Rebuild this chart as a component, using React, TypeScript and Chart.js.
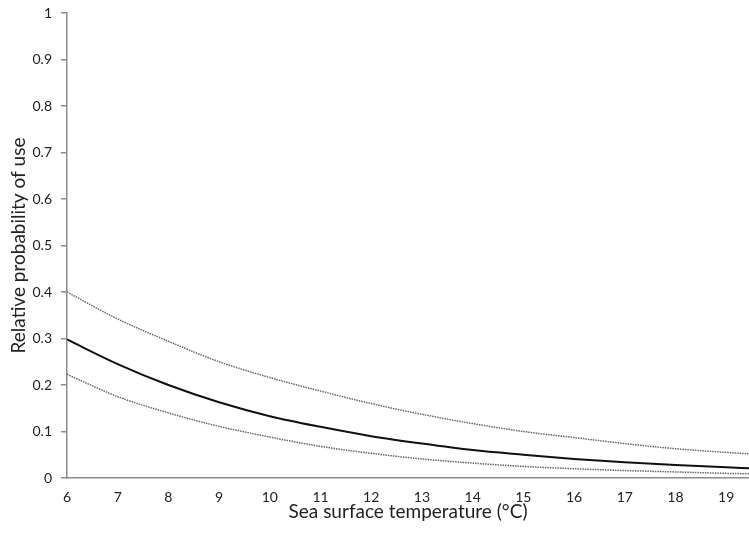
import React, { useEffect, useRef } from "react";
import { Chart, registerables } from "chart.js";

Chart.register(...registerables);

const temperatures = [6, 7, 8, 9, 10, 11, 12, 13, 14, 15, 16, 17, 18, 19, 19.45];
const meanProbability = [0.298, 0.245, 0.2, 0.163, 0.133, 0.11, 0.09, 0.074, 0.06, 0.05, 0.041, 0.034, 0.028, 0.023, 0.021];
const upperProbability = [0.4, 0.342, 0.294, 0.25, 0.216, 0.187, 0.16, 0.137, 0.117, 0.1, 0.087, 0.074, 0.063, 0.055, 0.052];
const lowerProbability = [0.223, 0.175, 0.14, 0.111, 0.088, 0.068, 0.053, 0.041, 0.032, 0.025, 0.02, 0.016, 0.013, 0.01, 0.009];

const xTitle = "Sea surface temperature (°C)";
const yTitle = "Relative probability of use";

const toPoints = (vals: number[]) => vals.map((y, i) => ({ x: temperatures[i], y }));

export default function App() {
  const ref = useRef<HTMLCanvasElement | null>(null);

  useEffect(() => {
    document.body.style.margin = "0";
    const ctx = ref.current!;
    const font = "Lato, 'Open Sans', sans-serif";
    const chart = new Chart(ctx, {
      type: "line",
      data: {
        datasets: [
          {
            label: "Upper",
            data: toPoints(upperProbability),
            borderColor: "#666",
            borderWidth: 1.5,
            borderDash: [1.5, 1],
            pointRadius: 0,
            cubicInterpolationMode: "monotone",
          },
          {
            label: "Mean",
            data: toPoints(meanProbability),
            borderColor: "#111",
            borderWidth: 2,
            pointRadius: 0,
            cubicInterpolationMode: "monotone",
          },
          {
            label: "Lower",
            data: toPoints(lowerProbability),
            borderColor: "#666",
            borderWidth: 1.5,
            borderDash: [1.5, 1],
            pointRadius: 0,
            cubicInterpolationMode: "monotone",
          },
        ],
      },
      options: {
        animation: false,
        responsive: false,
        maintainAspectRatio: false,
        layout: { padding: { top: 13, right: 0, left: 0, bottom: 0 } },
        plugins: { legend: { display: false }, tooltip: { enabled: false } },
        scales: {
          x: {
            type: "linear",
            min: 6,
            max: 19.45,
            ticks: {
              stepSize: 1,
              includeBounds: false,
              color: "#222",
              padding: 11,
              font: { family: font, size: 14 },
              maxRotation: 0,
            },
            grid: { display: false, drawTicks: false },
            border: { display: true, color: "#8c8c8c", width: 1.5 },
            title: {
              display: true,
              text: xTitle,
              color: "#222",
              font: { family: font, size: 19 },
              padding: { top: 2, bottom: 16 },
            },
            afterFit: (scale: any) => {
              scale.height = 61;
              scale.paddingLeft = 0;
              scale.paddingRight = 0;
            },
          },
          y: {
            min: 0,
            max: 1,
            ticks: {
              stepSize: 0.1,
              color: "#222",
              padding: 9,
              font: { family: font, size: 14 },
              callback: (v: any) => String(Math.round(Number(v) * 10) / 10),
            },
            grid: {
              display: true,
              drawOnChartArea: false,
              drawTicks: true,
              tickLength: 6,
              color: "#8c8c8c",
              lineWidth: 1.5,
            },
            border: { display: true, color: "#8c8c8c", width: 1.5 },
            title: {
              display: true,
              text: yTitle,
              color: "#222",
              font: { family: font, size: 19 },
              padding: { top: 7, bottom: 0 },
            },
            afterFit: (scale: any) => {
              scale.width = 67;
              scale.paddingTop = 0;
              scale.paddingBottom = 0;
            },
          },
        },
      },
    });
    return () => chart.destroy();
  }, []);

  return (
    <div style={{ position: "absolute", left: 0, top: 0, width: 749, height: 539 }}>
      <canvas ref={ref} width={749} height={539} style={{ width: 749, height: 539, display: "block" }} />
    </div>
  );
}
